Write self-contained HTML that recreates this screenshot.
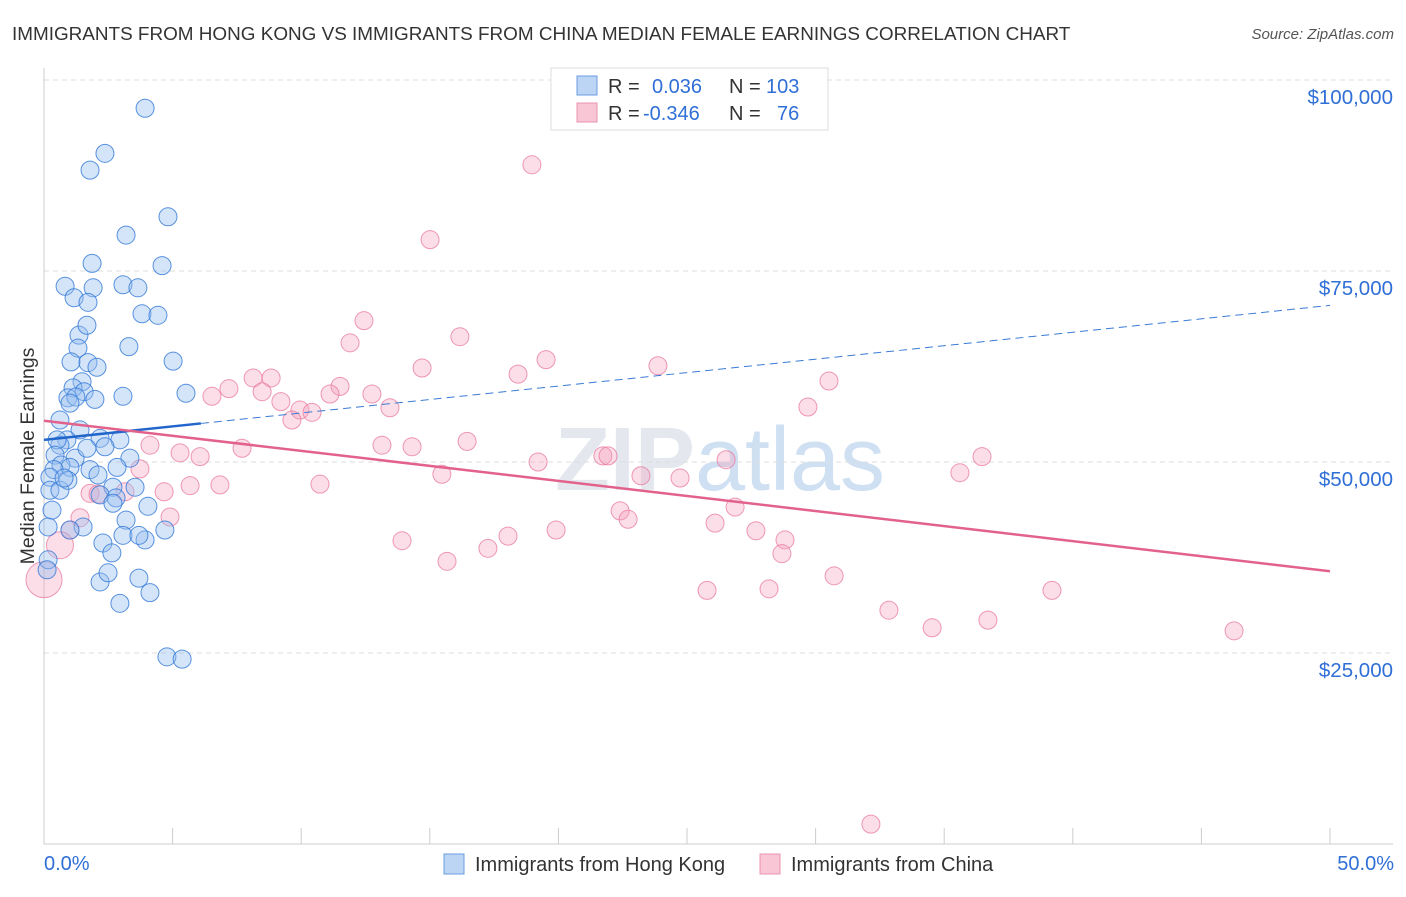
<!DOCTYPE html>
<html><head><meta charset="utf-8">
<style>
body{margin:0;background:#fff;font-family:"Liberation Sans",sans-serif;}
svg text{font-family:"Liberation Sans",sans-serif;}
</style></head>
<body>
<svg id="chart" width="1406" height="892" xmlns="http://www.w3.org/2000/svg">
<text x="12" y="40" font-size="18.9" fill="#333">IMMIGRANTS FROM HONG KONG VS IMMIGRANTS FROM CHINA MEDIAN FEMALE EARNINGS CORRELATION CHART</text>
<text x="1394" y="39" font-size="15" fill="#555" font-style="italic" text-anchor="end">Source: ZipAtlas.com</text>
<text x="720" y="490" font-size="90" fill="#e4e8ee" text-anchor="middle" font-weight="bold" font-family="Liberation Serif">ZIP<tspan fill="#cfe0f3" font-weight="normal" font-family="Liberation Sans">atlas</tspan></text>
<g id="grid"></g><g id="axes"></g><g id="marks"></g>
<text transform="translate(34,456) rotate(-90)" font-size="19.5" fill="#333" text-anchor="middle">Median Female Earnings</text>
<g>
<rect x="551" y="68" width="277" height="62" fill="#fff" stroke="#ddd"/>
<rect x="577" y="76" width="20" height="19" fill="#bcd5f5" stroke="#6b9be0"/>
<rect x="577" y="103" width="20" height="19" fill="#f9c6d5" stroke="#ec93ae"/>
<text x="608" y="93" font-size="20" fill="#333">R = </text><text x="652" y="93" font-size="20" fill="#2f6fd6">0.036</text>
<text x="729" y="93" font-size="20" fill="#333">N = </text><text x="766" y="93" font-size="20" fill="#2f6fd6">103</text>
<text x="608" y="120" font-size="20" fill="#333">R = </text><text x="643" y="120" font-size="20" fill="#2f6fd6">-0.346</text>
<text x="729" y="120" font-size="20" fill="#333">N = </text><text x="777" y="120" font-size="20" fill="#2f6fd6">76</text>
</g>
<g>
<rect x="444" y="854" width="20" height="20" fill="#bcd5f5" stroke="#6b9be0"/>
<text x="475" y="871" font-size="20" fill="#333">Immigrants from Hong Kong</text>
<rect x="760" y="854" width="20" height="20" fill="#f9c6d5" stroke="#ec93ae"/>
<text x="791" y="871" font-size="20" fill="#333">Immigrants from China</text>
</g>
</svg>
<script>
const yTicks=[25,50,75,100];
const yTickLabels=["$25,000","$50,000","$75,000","$100,000"];
const xTickLabels=["0.0%","50.0%"];
const blueX=[3.93,2.37,1.79,4.82,3.19,1.87,4.59,0.82,1.91,3.07,3.65,1.17,1.71,3.81,4.43,1.36,1.67,1.32,3.30,5.02,1.05,1.71,2.06,1.48,5.52,1.13,1.56,0.93,1.98,3.07,1.24,1.01,1.40,0.89,0.62,0.51,2.18,2.95,0.43,1.21,2.37,3.34,1.79,0.66,1.01,0.39,0.23,2.10,2.84,0.23,0.62,0.93,2.68,3.54,2.18,4.04,2.80,0.31,1.52,3.19,2.68,3.93,4.70,2.29,2.64,3.07,3.69,0.16,1.01,0.16,2.18,2.49,3.69,4.12,2.95,4.78,5.37,0.12,0.62,1.67,0.78];
const blueY=[96.3,90.4,88.2,82.1,79.7,76.0,75.7,73.0,72.8,73.2,72.8,71.5,70.9,69.4,69.2,66.6,67.9,64.9,65.1,63.2,63.1,63.0,62.4,60.5,59.0,59.7,59.2,58.4,58.2,58.6,58.5,57.7,54.2,52.9,52.2,52.9,53.1,52.9,50.9,50.5,52.0,50.5,49.0,49.6,49.3,49.0,48.0,48.3,49.3,46.3,46.3,47.6,46.7,46.7,45.7,44.2,45.3,43.7,41.5,42.4,44.6,39.8,41.1,39.4,38.1,40.4,40.4,41.5,41.1,37.2,34.3,35.5,34.8,32.9,31.5,24.5,24.2,35.9,55.5,51.8,47.9];
const pinkX=[18.97,15.01,12.44,11.90,16.17,19.52,23.87,18.43,14.70,8.13,8.83,7.19,6.53,8.48,9.21,9.95,10.42,9.64,11.51,11.12,12.75,13.45,30.52,29.70,4.12,5.29,6.07,7.70,13.14,14.31,16.45,19.21,21.73,21.93,26.52,15.47,23.21,24.73,35.61,36.47,6.84,5.68,4.67,3.15,3.73,1.79,10.73,22.40,22.71,26.09,26.87,27.68,28.81,28.69,19.91,18.04,17.26,13.92,15.67,4.90,1.40,1.01,0.62,0.0,25.78,28.19,30.72,32.85,34.53,36.70,39.19,46.27,32.15,2.10];
const pinkY=[88.9,79.1,68.5,65.6,66.4,63.4,62.6,61.5,62.3,61.0,61.0,59.6,58.6,59.2,57.9,56.8,56.5,55.5,59.9,58.9,58.9,57.1,60.6,57.2,52.2,51.2,50.7,51.8,52.2,52.0,52.7,50.0,50.8,50.8,50.3,48.4,48.2,47.9,48.6,50.7,47.0,46.9,46.1,46.1,49.1,45.9,47.1,43.6,42.5,42.0,44.1,41.0,39.8,38.0,41.1,40.3,38.7,39.7,37.0,42.8,42.7,41.1,39.1,34.6,33.2,33.4,35.1,30.6,28.3,29.3,33.2,27.9,2.6,45.8];
const pinkWeight=[1,1,1,1,1,1,1,1,1,1,1,1,1,1,1,1,1,1,1,1,1,1,1,1,1,1,1,1,1,1,1,1,1,1,1,1,1,1,1,1,1,1,1,1,1,1,1,1,1,1,1,1,1,1,1,1,1,1,1,1,1,1,1.5,2,1,1,1,1,1,1,1,1,1,1];
const blueTrend=[52.9,70.5];
const pinkTrend=[55.4,35.7];
const NS="http://www.w3.org/2000/svg";
const X0=44,X1=1330,YB=844,YT=80;
const sx=p=>X0+(p/50)*(X1-X0);
const sy=v=>YB-(v/100)*(YB-YT);
function mk(tag,attrs,parent){const e=document.createElementNS(NS,tag);for(const k in attrs)e.setAttribute(k,attrs[k]);parent.appendChild(e);return e;}
const grid=document.getElementById('grid'),axes=document.getElementById('axes'),marks=document.getElementById('marks');
yTicks.forEach((t,i)=>{
 const l=mk('line',{x1:X0,x2:1393,y1:sy(t),y2:sy(t),stroke:'#ddd','stroke-dasharray':'5,4'},grid);
 
 
 const tx=mk('text',{x:1393,y:sy(t)+24,'font-size':20.5,fill:'#2f6fd6','text-anchor':'end'},axes);
 tx.textContent=yTickLabels[i];
 
 
});
const ax=mk('line',{x1:X0,x2:X0,y1:68,y2:YB,stroke:'#ccc'},axes);


const bx=mk('line',{x1:X0,x2:1393,y1:YB,y2:YB,stroke:'#ccc'},axes);


for(let p=0;p<=50;p+=5){
 const t=mk('line',{x1:sx(p),x2:sx(p),y1:YB,y2:YB-16,stroke:'#ccc'},axes);
 
 
}
[[0,'start',44],[50,'end',1394]].forEach((d,i)=>{
 const t=mk('text',{x:d[2],y:870,'font-size':20,fill:'#2f6fd6','text-anchor':d[1]},axes);
 t.textContent=xTickLabels[i];
 
 
});
pinkX.forEach((x,i)=>{
 const c=mk('circle',{cx:sx(x),cy:sy(pinkY[i]),r:9*pinkWeight[i],fill:'rgba(244,160,188,0.35)',stroke:'rgba(232,120,158,0.75)','stroke-width':1},marks);
 
 
});
blueX.forEach((x,i)=>{
 const c=mk('circle',{cx:sx(x),cy:sy(blueY[i]),r:9,fill:'rgba(150,190,240,0.4)',stroke:'rgba(50,120,215,0.8)','stroke-width':1},marks);
 
 
});
const bAt=p=>blueTrend[0]+(blueTrend[1]-blueTrend[0])*p/50;
const t1=mk('line',{x1:sx(6.1),y1:sy(bAt(6.1)),x2:sx(50),y2:sy(bAt(50)),stroke:'#3a7bd5','stroke-width':1,'stroke-dasharray':'8,5'},marks);


const t2=mk('line',{x1:sx(0),y1:sy(bAt(0)),x2:sx(6.1),y2:sy(bAt(6.1)),stroke:'#2266cc','stroke-width':2.5},marks);


const t3=mk('line',{x1:sx(0),y1:sy(pinkTrend[0]),x2:sx(50),y2:sy(pinkTrend[1]),stroke:'#e2628c','stroke-width':2.5},marks);


</script>
</body></html>
